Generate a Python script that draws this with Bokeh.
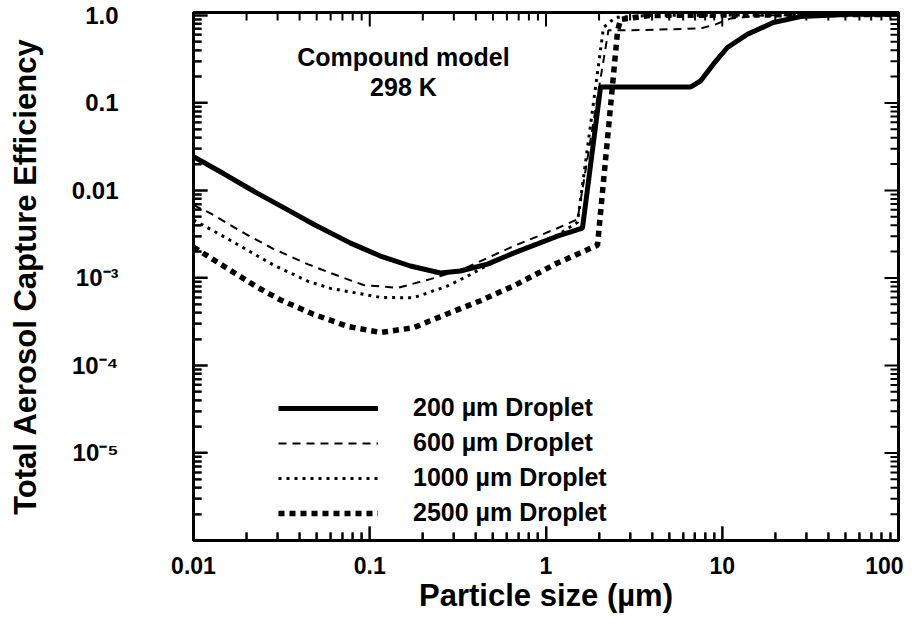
import math
from bokeh.plotting import figure
from bokeh.models import FixedTicker, Legend, LegendItem, Label, Range1d
from bokeh.embed import file_html
from bokeh.resources import INLINE

# ---------------- data ----------------
size_200 = [0.01, 0.0148, 0.0231, 0.0355, 0.048, 0.0778, 0.115, 0.17, 0.252, 0.327,
            0.466, 0.654, 1.16, 1.61, 2.04, 6.6, 7.53, 8.9, 10.7, 13.9, 19.5, 27.8, 53.5, 100]
eff_200 = [0.0243, 0.0156, 0.00925, 0.00577, 0.00411, 0.0025, 0.00178, 0.00137, 0.00114, 0.0012,
           0.00144, 0.00192, 0.0030, 0.0037, 0.152, 0.152, 0.178, 0.277, 0.43, 0.61, 0.83, 0.97, 1.03, 1.03]

size_600 = [0.01, 0.0125, 0.0185, 0.0285, 0.0444, 0.0599, 0.0922, 0.144, 0.221, 0.34,
            0.654, 1.16, 1.51, 2.26, 2.9, 7.53, 9.16, 11.1, 16.5, 100]
eff_600 = [0.0068, 0.00548, 0.00342, 0.00214, 0.00144, 0.00114, 0.00083, 0.00077, 0.00097, 0.00127,
           0.00231, 0.0037, 0.00468, 0.675, 0.675, 0.71, 0.79, 0.92, 1.0, 1.03]

size_1000 = [0.01, 0.0125, 0.0185, 0.0285, 0.0444, 0.0599, 0.115, 0.177, 0.276, 0.359,
             0.425, 0.654, 1.16, 1.51, 2.12, 2.48, 3.9, 100]
eff_1000 = [0.0046, 0.0036, 0.00231, 0.0014, 0.00092, 0.00076, 0.0006, 0.000593, 0.00081, 0.00105,
            0.00127, 0.00197, 0.00308, 0.00433, 0.73, 0.95, 1.0, 1.03]

size_2500 = [0.01, 0.0148, 0.0231, 0.0312, 0.048, 0.0748, 0.115, 0.177, 0.276, 0.425,
             0.654, 1.16, 1.96, 2.55, 2.65, 3.9, 100]
eff_2500 = [0.00225, 0.00137, 0.00078, 0.00056, 0.000385, 0.00028, 0.000238, 0.00027, 0.00039, 0.00055,
            0.00081, 0.00148, 0.00237, 0.675, 0.90, 1.0, 1.03]

series_labels = ["200 \u00b5m Droplet", "600 \u00b5m Droplet", "1000 \u00b5m Droplet", "2500 \u00b5m Droplet"]

x_ticks = [0.01, 0.1, 1, 10, 100]
x_tick_labels = ["0.01", "0.1", "1", "10", "100"]
y_ticks = [1e-6, 1e-5, 1e-4, 1e-3, 1e-2, 1e-1, 1.0]
y_tick_labels = ["", "10\u207b\u2075", "10\u207b\u2074", "10\u207b\u00b3", "0.01", "0.1", "1.0"]

annotation_lines = ["Compound model", "298 K"]
x_title = "Particle size (\u00b5m)"
y_title = "Total Aerosol Capture Efficiency"

X_RANGE = (0.01, 100)
Y_RANGE = (1e-6, 1.08)

# minor tick positions (2..9 in each decade)
x_minor = [m * 10.0 ** e for e in range(-2, 2) for m in range(2, 10)]
y_minor = [m * 10.0 ** e for e in range(-6, 0) for m in range(2, 10)]

FONT = "Liberation Sans"
W, H = 903, 618
B_LEFT, B_RIGHT, B_TOP, B_BOTTOM = 193, 5, 12, 78

p = figure(width=W, height=H, x_axis_type="log", y_axis_type="log",
           x_range=Range1d(*X_RANGE), y_range=Range1d(*Y_RANGE),
           output_backend="svg", toolbar_location=None,
           min_border_left=B_LEFT, min_border_right=B_RIGHT,
           min_border_top=B_TOP, min_border_bottom=B_BOTTOM)
p.background_fill_color = "white"
p.border_fill_color = "white"
p.grid.visible = False
p.outline_line_color = "black"
p.outline_line_width = 3
p.outline_line_alpha = 1.0


def style_axis(ax):
    ax.axis_line_width = 3
    ax.axis_line_color = "black"
    ax.major_tick_in = 14
    ax.major_tick_out = 0
    ax.minor_tick_in = 8
    ax.minor_tick_out = 0
    ax.major_tick_line_width = 2
    ax.minor_tick_line_width = 2
    ax.major_label_text_font = FONT
    ax.major_label_text_font_style = "bold"
    ax.major_label_text_color = "black"
    ax.axis_label_text_font = FONT
    ax.axis_label_text_font_style = "bold"
    ax.axis_label_text_color = "black"


xax = p.xaxis[0]
xax.ticker = FixedTicker(ticks=x_ticks, minor_ticks=x_minor)
xax.major_label_overrides = {t: l for t, l in zip(x_ticks, x_tick_labels)}
style_axis(xax)
xax.major_label_text_font_size = "23px"
xax.major_label_standoff = 16
xax.axis_label = x_title
xax.axis_label_text_font_size = "31px"
xax.axis_label_standoff = 1

yax = p.yaxis[0]
yax.ticker = FixedTicker(ticks=y_ticks, minor_ticks=y_minor)
yax.major_label_overrides = {t: l for t, l in zip(y_ticks, y_tick_labels)}
style_axis(yax)
yax.major_label_text_font_size = "24px"
yax.major_label_standoff = 75
yax.axis_label = y_title
yax.axis_label_text_font_size = "31px"
yax.axis_label_standoff = 26

r200 = p.line(size_200, eff_200, line_color="black", line_width=5)
r600 = p.line(size_600, eff_600, line_color="black", line_width=2, line_dash="8 6")
r1000 = p.line(size_1000, eff_1000, line_color="black", line_width=3, line_dash="3 5")
r2500 = p.line(size_2500, eff_2500, line_color="black", line_width=5.5, line_dash="6 5")

# ---- inward tick marks on all four sides, as thin filled rectangles ----
frame_w = W - B_LEFT - B_RIGHT
frame_h = H - B_TOP - B_BOTTOM
px_per_dec_x = frame_w / (math.log10(X_RANGE[1]) - math.log10(X_RANGE[0]))
px_per_dec_y = frame_h / (math.log10(Y_RANGE[1]) - math.log10(Y_RANGE[0]))
MAJOR_LEN, MINOR_LEN, HALF_W = 14, 8, 1.0


def fx(px):
    return 10 ** (px / px_per_dec_x)


def fy(px):
    return 10 ** (px / px_per_dec_y)


xt = list(x_ticks) + list(x_minor)
xl = [MAJOR_LEN] * len(x_ticks) + [MINOR_LEN] * len(x_minor)
yt = list(y_ticks) + list(y_minor)
yl = [MAJOR_LEN] * len(y_ticks) + [MINOR_LEN] * len(y_minor)

q_left, q_right, q_bottom, q_top = [], [], [], []
for t, L in zip(xt, xl):
    # bottom edge
    q_left.append(t / fx(HALF_W)); q_right.append(t * fx(HALF_W))
    q_bottom.append(Y_RANGE[0]); q_top.append(Y_RANGE[0] * fy(L))
    # top edge
    q_left.append(t / fx(HALF_W)); q_right.append(t * fx(HALF_W))
    q_bottom.append(Y_RANGE[1] / fy(L)); q_top.append(Y_RANGE[1])
for t, L in zip(yt, yl):
    # left edge
    q_left.append(X_RANGE[0]); q_right.append(X_RANGE[0] * fx(L))
    q_bottom.append(t / fy(HALF_W)); q_top.append(t * fy(HALF_W))
    # right edge
    q_left.append(X_RANGE[1] / fx(L)); q_right.append(X_RANGE[1])
    q_bottom.append(t / fy(HALF_W)); q_top.append(t * fy(HALF_W))
p.quad(left=q_left, right=q_right, bottom=q_bottom, top=q_top,
       fill_color="black", line_color=None)

legend = Legend(items=[LegendItem(label=series_labels[0], renderers=[r200]),
                       LegendItem(label=series_labels[1], renderers=[r600]),
                       LegendItem(label=series_labels[2], renderers=[r1000]),
                       LegendItem(label=series_labels[3], renderers=[r2500])],
                location=(85, 13), padding=0, margin=0, spacing=6,
                glyph_width=100, glyph_height=28, label_height=28, label_standoff=35,
                label_text_font=FONT, label_text_font_style="bold", label_text_font_size="25px",
                label_text_color="black",
                border_line_alpha=0, background_fill_alpha=0)
p.add_layout(legend)

for txt, yv in zip(annotation_lines, [0.333, 0.152]):
    p.add_layout(Label(x=0.1553, y=yv, text=txt, text_align="center", text_baseline="middle",
                       text_font=FONT, text_font_style="bold", text_font_size="25px",
                       text_color="black"))

open("out.html", "w").write(file_html(p, INLINE))
